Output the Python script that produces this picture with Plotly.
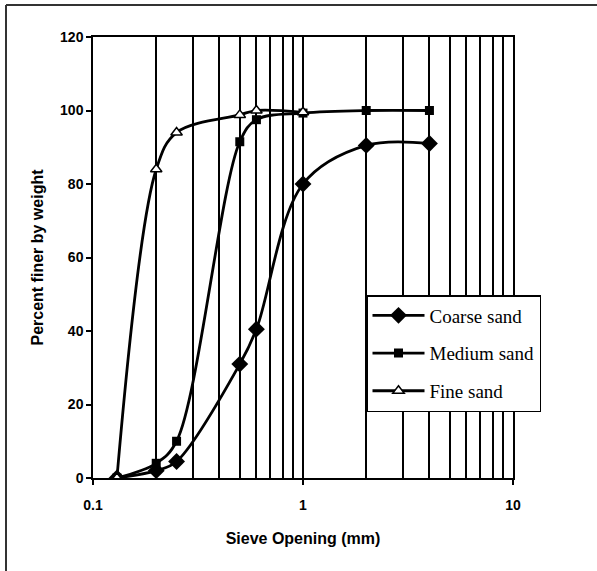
import plotly.graph_objects as go

# Data
sieve_mm = [0.13, 0.2, 0.25, 0.5, 0.6, 1, 2, 4]
coarse_sand = [0, 2, 4.5, 31, 40.5, 80, 90.5, 91]
medium_sand = [0, 4, 10, 91.5, 97.5, 99.3, 100, 100]
fine_sieve_mm = [0.13, 0.2, 0.25, 0.5, 0.6, 1]
fine_sand = [0, 84, 94, 98.8, 100, 99.5]

x_major = [0.1, 1, 10]
x_major_text = ["0.1", "1", "10"]
x_minor = [0.2, 0.3, 0.4, 0.5, 0.6, 0.7, 0.8, 0.9, 2, 3, 4, 5, 6, 7, 8, 9]
y_ticks = [0, 20, 40, 60, 80, 100, 120]

W, H = 597, 571
L, R, T, B = 93, 84, 37, 93
pw, ph = W - L - R, H - T - B

line_style = dict(color="black", width=2.8, shape="spline", smoothing=1)

fig = go.Figure()
fig.add_trace(go.Scatter(
    x=sieve_mm, y=coarse_sand, name="Coarse sand ", legendgroup="c",
    mode="lines+markers", line=line_style,
    marker=dict(symbol="diamond", size=13, color="black")))
fig.add_trace(go.Scatter(
    x=sieve_mm, y=medium_sand, name="Medium sand", legendgroup="m",
    mode="lines+markers", line=line_style,
    marker=dict(symbol="square", size=9, color="black")))
fig.add_trace(go.Scatter(
    x=fine_sieve_mm, y=fine_sand, name="Fine sand", legendgroup="f",
    mode="lines+markers", line=line_style,
    marker=dict(symbol="triangle-up", size=10, color="white", line=dict(color="black", width=1.5))))

fig.update_xaxes(
    type="log", range=[-1, 1],
    tickvals=x_major, ticktext=x_major_text,
    ticks="outside", ticklen=5, tickcolor="black", tickwidth=1.5,
    ticklabelstandoff=8,
    showline=True, linecolor="black", linewidth=1.5, mirror=True,
    showgrid=True, gridcolor="black", gridwidth=1.5,
    minor=dict(tickvals=x_minor, showgrid=True, gridcolor="black", gridwidth=1.5, ticks=""),
    tickfont=dict(family="Liberation Sans", size=14, color="black", weight="bold"),
    title=dict(text="<b>Sieve Opening (mm)</b>", font=dict(family="Liberation Sans", size=16, color="black"), standoff=21),
    zeroline=False,
)
fig.update_yaxes(
    range=[0, 120], tickvals=y_ticks,
    ticks="outside", ticklen=5, tickcolor="black", tickwidth=1.5,
    showline=True, linecolor="black", linewidth=1.5, mirror=True,
    showgrid=False, zeroline=False,
    tickfont=dict(family="Liberation Sans", size=14, color="black", weight="bold"),
    title=dict(text="<b>Percent finer by weight</b>", font=dict(family="Liberation Sans", size=16, color="black"), standoff=12),
)

# outer frame (left and top edges of the scanned figure)
fx0 = (6 - L) / pw
fx1 = (W - L) / pw
fy_top = (H - B - 5) / ph
fy_bot = (H - B - H) / ph
fig.add_shape(type="line", xref="paper", yref="paper", x0=fx0, x1=fx0, y0=fy_bot, y1=fy_top,
              line=dict(color="#333", width=2))
fig.add_shape(type="line", xref="paper", yref="paper", x0=fx0, x1=fx1, y0=fy_top, y1=fy_top,
              line=dict(color="#333", width=2))

fig.update_layout(
    width=W, height=H,
    margin=dict(l=L, r=R, t=T, b=B),
    paper_bgcolor="white", plot_bgcolor="white",
    showlegend=True,
    legend=dict(
        x=(366 - L) / pw, y=(H - B - 295) / ph, xanchor="left", yanchor="top",
        bgcolor="white", bordercolor="black", borderwidth=1.5,
        font=dict(family="Liberation Serif", size=19, color="black"),
        tracegroupgap=10, itemwidth=52,
    ),
)

fig.write_html("out.html")
